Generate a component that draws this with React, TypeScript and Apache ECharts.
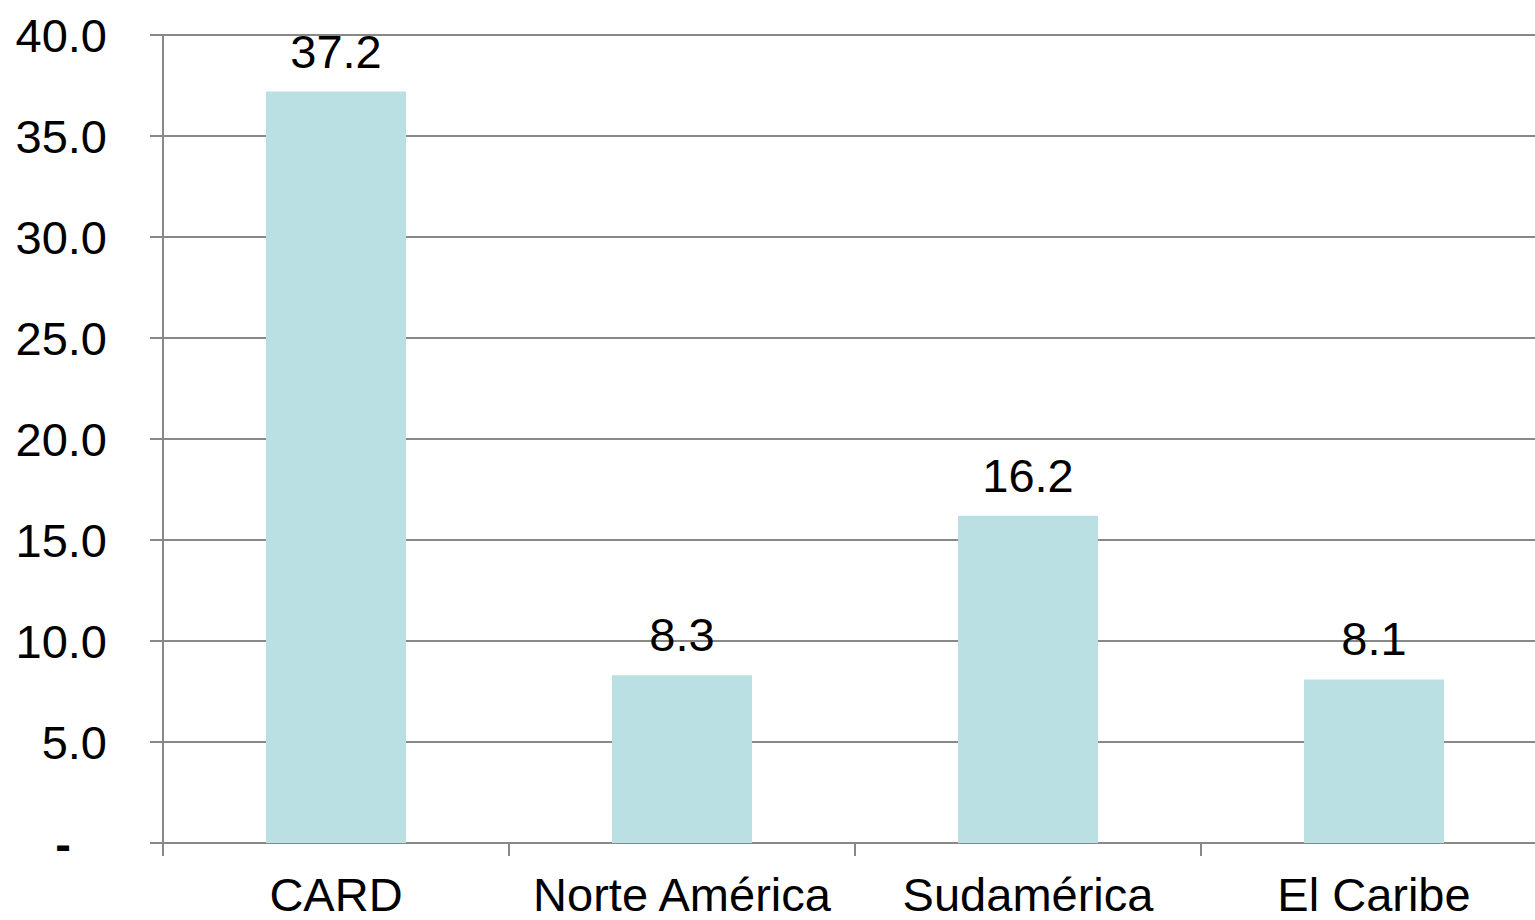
import React, { useEffect, useRef } from "react";
import * as echarts from "echarts";

const categories = ["CARD", "Norte América", "Sudamérica", "El Caribe"];
const values = [37.2, 8.3, 16.2, 8.1];
const yMin = 0;
const yMax = 40;
const yInterval = 5;

export default function App() {
  const ref = useRef<HTMLDivElement>(null);
  useEffect(() => {
    if (!ref.current) return;
    const chart = echarts.init(ref.current, undefined, { renderer: "svg" });
    const font = "'Liberation Sans', Arial, sans-serif";
    chart.setOption({
      animation: false,
      grid: { left: 163, right: 0, top: 35, bottom: 77, containLabel: false },
      xAxis: {
        type: "category",
        data: categories,
        axisLine: { lineStyle: { color: "#888888", width: 2 } },
        axisTick: { show: true, length: 13, lineStyle: { color: "#888888", width: 2 } },
        axisLabel: { color: "#000", fontSize: 47, fontFamily: font, margin: 28, interval: 0 },
      },
      yAxis: {
        type: "value",
        min: yMin,
        max: yMax,
        interval: yInterval,
        axisLine: { show: true, lineStyle: { color: "#888888", width: 2 } },
        axisTick: { show: true, length: 13, lineStyle: { color: "#888888", width: 2 } },
        splitLine: { show: true, lineStyle: { color: "#888888", width: 2 } },
        axisLabel: {
          color: "#000",
          fontSize: 47,
          fontFamily: font,
          margin: 56,
          formatter: (v: number) => (v === 0 ? "{z|-}" : v.toFixed(1)),
          rich: {
            z: { fontSize: 47, fontWeight: "bold", fontFamily: font, color: "#000", padding: [0, 36, 0, 0] },
          },
        },
      },
      series: [
        {
          type: "bar",
          data: values,
          barWidth: 140,
          itemStyle: { color: "#bbe0e3" },
          label: {
            show: true,
            position: "top",
            distance: 17,
            color: "#000",
            fontSize: 47,
            fontFamily: font,
            formatter: (p: any) => Number(p.value).toFixed(1),
          },
        },
      ],
    });
    return () => chart.dispose();
  }, []);
  return (
    <div
      style={{ position: "fixed", left: 0, top: 0, width: 1535, height: 920, overflow: "hidden", background: "#fff" }}
    >
      <div ref={ref} style={{ width: 1547, height: 920 }} />
    </div>
  );
}
